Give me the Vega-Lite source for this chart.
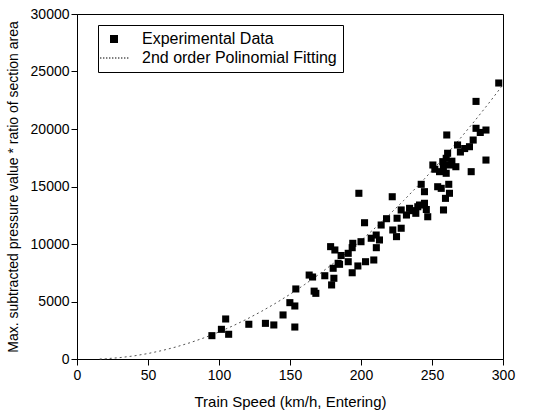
{
  "$schema": "https://vega.github.io/schema/vega-lite/v6.json",
  "width": 426,
  "height": 345,
  "autosize": "none",
  "padding": {"left": 77, "top": 14, "right": 44, "bottom": 58},
  "background": "white",
  "config": {
    "view": {"stroke": "black", "strokeWidth": 1},
    "font": "Liberation Sans",
    "axis": {
      "grid": false,
      "domainColor": "black",
      "domainWidth": 1,
      "tickColor": "black",
      "tickWidth": 1,
      "labelColor": "black",
      "titleColor": "black",
      "labelFont": "Liberation Sans",
      "titleFont": "Liberation Sans",
      "titleFontWeight": "normal"
    }
  },
  "datasets": {
    "fit": [
      {"speed": 16, "value": 0}, {"speed": 20, "value": 22}, {"speed": 30, "value": 117},
      {"speed": 40, "value": 268}, {"speed": 50, "value": 475}, {"speed": 60, "value": 738},
      {"speed": 70, "value": 1057}, {"speed": 80, "value": 1432}, {"speed": 90, "value": 1863},
      {"speed": 100, "value": 2350}, {"speed": 110, "value": 2893}, {"speed": 120, "value": 3492},
      {"speed": 130, "value": 4147}, {"speed": 140, "value": 4858}, {"speed": 150, "value": 5625},
      {"speed": 160, "value": 6448}, {"speed": 170, "value": 7327}, {"speed": 180, "value": 8262},
      {"speed": 190, "value": 9253}, {"speed": 200, "value": 10300}, {"speed": 210, "value": 11403},
      {"speed": 220, "value": 12562}, {"speed": 230, "value": 13777}, {"speed": 240, "value": 15048},
      {"speed": 250, "value": 16375}, {"speed": 260, "value": 17758}, {"speed": 270, "value": 19197},
      {"speed": 280, "value": 20692}, {"speed": 290, "value": 22243}, {"speed": 300, "value": 23850}
    ],
    "pts": [
      {"speed": 95, "value": 2030}, {"speed": 101.7, "value": 2580}, {"speed": 104.7, "value": 3480},
      {"speed": 106.8, "value": 2150}, {"speed": 121, "value": 3020}, {"speed": 132.7, "value": 3100},
      {"speed": 138.6, "value": 2960}, {"speed": 145.1, "value": 3830}, {"speed": 149.9, "value": 4900},
      {"speed": 153.4, "value": 4610}, {"speed": 153.4, "value": 2780}, {"speed": 154.1, "value": 6090},
      {"speed": 163.5, "value": 7300}, {"speed": 165.9, "value": 7130}, {"speed": 168.2, "value": 5710},
      {"speed": 167, "value": 5900}, {"speed": 174.5, "value": 7240}, {"speed": 178.6, "value": 9770},
      {"speed": 181.6, "value": 9480}, {"speed": 180.4, "value": 7890}, {"speed": 179.3, "value": 6440},
      {"speed": 180.9, "value": 7020}, {"speed": 183.9, "value": 8320}, {"speed": 184.9, "value": 8235},
      {"speed": 191, "value": 9190}, {"speed": 191, "value": 8460}, {"speed": 193.8, "value": 9680},
      {"speed": 193.8, "value": 7500}, {"speed": 197.8, "value": 8090}, {"speed": 203.2, "value": 8460},
      {"speed": 209, "value": 8610}, {"speed": 194.2, "value": 10060}, {"speed": 198.5, "value": 14410},
      {"speed": 202.5, "value": 11850}, {"speed": 207.2, "value": 10500}, {"speed": 210.8, "value": 9680},
      {"speed": 213, "value": 10350}, {"speed": 210.7, "value": 10780}, {"speed": 214.2, "value": 11650},
      {"speed": 222.4, "value": 11220}, {"speed": 225, "value": 10640}, {"speed": 228.3, "value": 11370},
      {"speed": 222, "value": 14110}, {"speed": 225.4, "value": 12240}, {"speed": 228.3, "value": 12960},
      {"speed": 232, "value": 12520}, {"speed": 234.2, "value": 13100}, {"speed": 238.6, "value": 12670},
      {"speed": 241.2, "value": 13390}, {"speed": 244.7, "value": 13540}, {"speed": 247, "value": 12370},
      {"speed": 258.1, "value": 12960}, {"speed": 242.4, "value": 15190}, {"speed": 244.7, "value": 14550},
      {"speed": 254, "value": 14980}, {"speed": 256.5, "value": 14840}, {"speed": 261.8, "value": 15190},
      {"speed": 262.3, "value": 14410}, {"speed": 259.5, "value": 13970}, {"speed": 250.6, "value": 16870},
      {"speed": 257.6, "value": 17160}, {"speed": 262.3, "value": 16870}, {"speed": 266.8, "value": 16720},
      {"speed": 255.3, "value": 16290}, {"speed": 260, "value": 16150}, {"speed": 261, "value": 17890},
      {"speed": 260, "value": 17450}, {"speed": 260.4, "value": 19480}, {"speed": 268, "value": 18610},
      {"speed": 276.4, "value": 18460}, {"speed": 279, "value": 19040}, {"speed": 281, "value": 20060},
      {"speed": 284, "value": 19700}, {"speed": 288, "value": 19910}, {"speed": 281, "value": 22400},
      {"speed": 297, "value": 24000}, {"speed": 288, "value": 17300}, {"speed": 277.6, "value": 16290},
      {"speed": 252, "value": 16500}, {"speed": 258, "value": 16600}, {"speed": 264, "value": 17200},
      {"speed": 270, "value": 18000}, {"speed": 273, "value": 18300}, {"speed": 246, "value": 13000},
      {"speed": 236, "value": 12900}, {"speed": 218, "value": 12200}, {"speed": 240, "value": 13240},
      {"speed": 186, "value": 9000}, {"speed": 200, "value": 10200}
    ]
  },
  "layer": [
    {
      "data": {"name": "fit"},
      "mark": {"type": "line", "color": "#555555", "strokeDash": [2, 3], "strokeWidth": 1},
      "encoding": {
        "x": {
          "field": "speed", "type": "quantitative",
          "scale": {"domain": [0, 300], "nice": false, "zero": false},
          "axis": {
            "title": "Train Speed (km/h, Entering)",
            "values": [0, 25, 50, 75, 100, 125, 150, 175, 200, 225, 250, 275, 300],
            "labelExpr": "datum.value % 50 === 0 ? datum.label : ''",
            "tickSize": {"condition": {"test": "datum.value % 50 === 0", "value": 6}, "value": 3},
            "labelFontSize": 14,
            "titleFontSize": 15,
            "labelPadding": 3,
            "titlePadding": 12,
            "labelFlush": false,
            "labelOverlap": false
          }
        },
        "y": {
          "field": "value", "type": "quantitative",
          "scale": {"domain": [0, 30000], "nice": false},
          "axis": {
            "title": "Max. subtracted pressure value * ratio of section area",
            "values": [0, 2500, 5000, 7500, 10000, 12500, 15000, 17500, 20000, 22500, 25000, 27500, 30000],
            "labelExpr": "datum.value % 5000 === 0 ? datum.label : ''",
            "format": "d",
            "tickSize": {"condition": {"test": "datum.value % 5000 === 0", "value": 6}, "value": 3},
            "labelFontSize": 14,
            "titleFontSize": 14,
            "labelPadding": 2,
            "titlePadding": 10,
            "labelFlush": false,
            "labelOverlap": false
          }
        }
      }
    },
    {
      "data": {"name": "pts"},
      "mark": {"type": "point", "filled": true, "size": 50, "opacity": 1, "color": "black"},
      "encoding": {
        "x": {"field": "speed", "type": "quantitative"},
        "y": {"field": "value", "type": "quantitative"},
        "shape": {
          "datum": "Experimental Data",
          "type": "nominal",
          "scale": {
            "domain": ["Experimental Data", "2nd order Polinomial Fitting"],
            "range": ["square", "M-3.5,-0.12h0.35v0.24h-0.35Z M-2.75,-0.12h0.35v0.24h-0.35Z M-2,-0.12h0.35v0.24h-0.35Z M-1.25,-0.12h0.35v0.24h-0.35Z M-0.5,-0.12h0.35v0.24h-0.35Z M0.25,-0.12h0.35v0.24h-0.35Z M1,-0.12h0.35v0.24h-0.35Z M1.75,-0.12h0.35v0.24h-0.35Z M2.5,-0.12h0.35v0.24h-0.35Z M3.25,-0.12h0.35v0.24h-0.35Z"]
          },
          "legend": {
            "title": null,
            "orient": "none",
            "legendX": 21,
            "legendY": 11,
            "padding": 6,
            "strokeColor": "black",
            "fillColor": "white",
            "symbolSize": 64,
            "symbolOffset": 2,
            "symbolFillColor": "black",
            "symbolStrokeColor": "transparent",
            "symbolStrokeWidth": 0,
            "symbolOpacity": 1,
            "labelFontSize": 16,
            "labelColor": "black",
            "labelFont": "Liberation Sans",
            "labelLimit": 0,
            "labelOffset": 20,
            "rowPadding": 3,
            "encode": {
              "symbols": {
                "update": {
                  "fill": {"signal": "datum.value === 'Experimental Data' ? 'black' : '#555555'"},
                  "stroke": {"value": "transparent"},
                  "opacity": {"value": 1}
                }
              }
            }
          }
        }
      }
    }
  ]
}
